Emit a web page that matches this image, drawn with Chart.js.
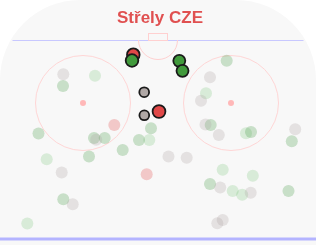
<!DOCTYPE html>
<html>
<head>
<meta charset="utf-8">
<title>Střely CZE</title>
<script src="https://cdn.jsdelivr.net/npm/chart.js@4"></script>
<style>
    html, body { margin: 0; padding: 0; background: #fff; }
    #wrap { width: 320px; height: 245px; }
</style>
</head>
<body>
<div id="wrap"><canvas id="shotChart"></canvas></div>
<script>
// Shot locations, rink units (x across the ice, y down from the end boards)
const goalsFocus   = [[133.3, 54.7], [159, 111.5]];
const onNetFocus   = [[132, 60.5], [179.3, 60.8], [182.5, 70.8]];
const missedFocus  = [[144.2, 92.2], [144.3, 115.3]];

const goalsOther   = [[114.3, 125], [146.7, 174.3]];
const onNetOther   = [[63, 86], [38.5, 133.5], [94, 138], [104.7, 138], [139, 140], [151, 128.3],
                      [122.7, 150], [89, 156.5], [63.3, 199.2], [226.7, 60.7], [210.7, 125],
                      [251, 132], [291.8, 141.2], [210, 184], [288.5, 191]];
const blockedOther = [[95, 75.7], [149.3, 140], [46.7, 159.3], [27.3, 223.5], [206, 93.3],
                      [246, 133.3], [222.7, 169.7], [252.8, 175.8], [232.7, 191], [242.2, 194.7]];
const missedOther  = [[63.3, 74.3], [96.2, 139.7], [61.7, 172.5], [72.7, 204.3], [210, 77.3],
                      [201, 100.7], [205.5, 124.5], [218.8, 135], [295.2, 129.3], [168.5, 156.5],
                      [186.7, 157.7], [220.2, 187.5], [250.7, 192.8], [217.3, 223.3], [222.7, 220]];

// rink markings, same units
const rinkWidth = 316;
const cornerRadius = 80;
const goalLineY = 40;
const blueLineY = 239;
const faceoffSpots = [[83, 103], [231, 103]];
const faceoffRadius = 47.5;

function toPoints(list) {
    return list.map(p => ({ x: p[0], y: p[1] }));
}

const rinkPlugin = {
    id: 'rink',
    beforeDraw(chart) {
        const ctx = chart.ctx;
        const sx = chart.scales.x, sy = chart.scales.y;
        const px = v => sx.getPixelForValue(v);
        const py = v => sy.getPixelForValue(v);
        const unit = px(1) - px(0);

        ctx.save();

        // ice surface with rounded end boards
        const l = px(0), r = px(rinkWidth), t = py(0), b = py(260);
        const rad = cornerRadius * unit;
        ctx.fillStyle = '#f8f8f8';
        ctx.beginPath();
        ctx.moveTo(l, b);
        ctx.lineTo(l, t + rad);
        ctx.arcTo(l, t, l + rad, t, rad);
        ctx.lineTo(r - rad, t);
        ctx.arcTo(r, t, r, t + rad, rad);
        ctx.lineTo(r, b);
        ctx.closePath();
        ctx.fill();

        // goal line
        ctx.strokeStyle = '#c8c8ff';
        ctx.lineWidth = 1;
        ctx.beginPath();
        ctx.moveTo(px(12.5), Math.round(py(goalLineY)) + 0.5);
        ctx.lineTo(px(rinkWidth - 12.5), Math.round(py(goalLineY)) + 0.5);
        ctx.stroke();

        // net and crease
        ctx.strokeStyle = '#ffd0d0';
        ctx.strokeRect(px(148) + 0.5, py(33) + 0.5, px(167) - px(148), py(40) - py(33));
        ctx.beginPath();
        ctx.arc(px(158), py(goalLineY), 19.5 * unit, 0, Math.PI);
        ctx.stroke();

        // faceoff circles
        faceoffSpots.forEach(s => {
            ctx.strokeStyle = '#ffd6d6';
            ctx.beginPath();
            ctx.arc(px(s[0]), py(s[1]), faceoffRadius * unit, 0, Math.PI * 2);
            ctx.stroke();
            ctx.fillStyle = '#ffb8b8';
            ctx.beginPath();
            ctx.arc(px(s[0]), py(s[1]), 3, 0, Math.PI * 2);
            ctx.fill();
        });

        // blue line
        ctx.strokeStyle = '#b4b4ff';
        ctx.lineWidth = 3;
        ctx.beginPath();
        ctx.moveTo(px(0), py(blueLineY));
        ctx.lineTo(px(rinkWidth), py(blueLineY));
        ctx.stroke();

        ctx.restore();
    }
};

function focusSet(label, list, color, radius) {
    return {
        label: label,
        data: toPoints(list),
        backgroundColor: color,
        borderColor: '#1a1a1a',
        borderWidth: 1.8,
        pointRadius: radius,
        pointHoverRadius: radius,
        clip: false
    };
}

function otherSet(label, list, color) {
    return {
        label: label,
        data: toPoints(list),
        backgroundColor: color,
        borderWidth: 0,
        pointRadius: 6,
        pointHoverRadius: 6,
        clip: false
    };
}

new Chart(document.getElementById('shotChart'), {
    type: 'scatter',
    data: {
        // first dataset is drawn on top
        datasets: [
            focusSet('Na bránu', onNetFocus, '#419a3c', [6.3, 6.0, 6.0]),
            focusSet('Gól', goalsFocus, '#e04848', [6.3, 6.4]),
            focusSet('Mimo', missedFocus, '#b0a8a6', 4.9),
            otherSet('Mimo (ostatní)', missedOther, 'rgba(176, 166, 166, 0.28)'),
            otherSet('Gól (ostatní)', goalsOther, 'rgba(224, 72, 72, 0.27)'),
            otherSet('Na bránu (ostatní)', onNetOther, 'rgba(60, 150, 60, 0.26)'),
            otherSet('Zblokované (ostatní)', blockedOther, 'rgba(60, 170, 60, 0.17)')
        ]
    },
    options: {
        responsive: true,
        maintainAspectRatio: false,
        animation: false,
        layout: { padding: 0, autoPadding: false },
        plugins: {
            legend: { display: false },
            tooltip: { enabled: false },
            title: {
                display: true,
                text: 'Střely CZE',
                color: '#e05050',
                font: { family: '"Liberation Sans", Arial, sans-serif', size: 17, weight: 'bold' },
                padding: { top: 8, bottom: 2 }
            }
        },
        scales: {
            x: { type: 'linear', min: 0, max: 320, display: false },
            y: { type: 'linear', min: 30.4, max: 245, reverse: true, display: false }
        }
    },
    plugins: [rinkPlugin]
});
</script>
</body>
</html>
